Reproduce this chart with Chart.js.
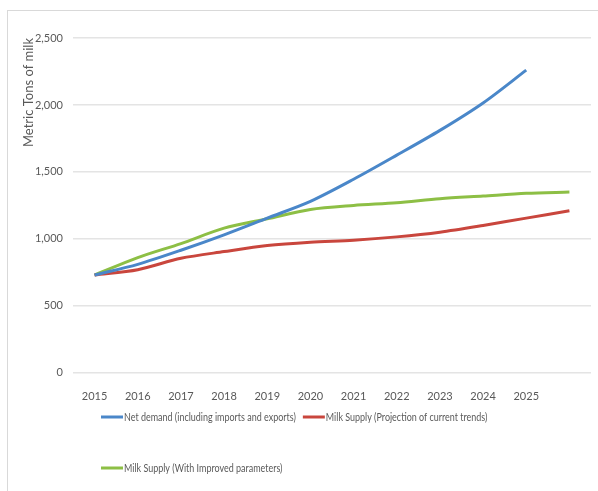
<!DOCTYPE html>
<html>
<head>
<meta charset="utf-8">
<script src="https://cdn.jsdelivr.net/npm/chart.js@4.4.0/dist/chart.umd.min.js"></script>
<style>
  html, body { margin: 0; padding: 0; background: #ffffff; }
  #wrap { position: relative; width: 598px; height: 491px; }
</style>
</head>
<body>
<div id="wrap"><canvas id="c"></canvas></div>
<script>
// ---- data ----
const years = ['2015', '2016', '2017', '2018', '2019', '2020', '2021', '2022', '2023', '2024', '2025', ''];
const netDemand = [730, 810, 915, 1030, 1155, 1280, 1445, 1625, 1810, 2015, 2260, null];
const supplyCurrent = [730, 770, 855, 905, 950, 975, 990, 1015, 1050, 1100, 1155, 1210];
const supplyImproved = [730, 860, 965, 1080, 1150, 1220, 1250, 1270, 1300, 1320, 1340, 1350];
const seriesNames = [
  'Net demand (including imports and exports)',
  'Milk Supply (Projection of current trends)',
  'Milk Supply (With Improved parameters)'
];
const yTicks = [0, 500, 1000, 1500, 2000, 2500];
const yTitle = 'Metric Tons of milk';

const FONT = "Lato, 'Open Sans', sans-serif";
const TXT = '#595959';
const colors = ['#4A87C9', '#C9463D', '#8DBF45'];

const frameAndLegend = {
  id: 'frameAndLegend',
  beforeDraw(chart) {
    const ctx = chart.ctx;
    ctx.save();
    ctx.strokeStyle = '#d9d9d9';
    ctx.lineWidth = 1;
    ctx.strokeRect(7.5, 10.5, 700, 700);
    ctx.restore();
  },
  afterDraw(chart) {
    const ctx = chart.ctx;
    const sx = 0.78; // condensed legend text
    ctx.save();
    ctx.font = '11.5px ' + FONT;
    ctx.fillStyle = TXT;
    ctx.textBaseline = 'middle';
    ctx.textAlign = 'left';
    const rows = [[0, 1], [2]];
    const rowY = [417, 468];
    rows.forEach((row, ri) => {
      let x = 101;
      row.forEach(i => {
        const ds = chart.data.datasets[i];
        ctx.strokeStyle = ds.borderColor;
        ctx.lineWidth = 3;
        ctx.beginPath();
        ctx.moveTo(x, rowY[ri]);
        ctx.lineTo(x + 22, rowY[ri]);
        ctx.stroke();
        ctx.save();
        ctx.translate(x + 23, rowY[ri]);
        ctx.scale(sx, 1);
        ctx.fillText(ds.label, 0, 0);
        ctx.restore();
        x += 23 + ctx.measureText(ds.label).width * sx + 7;
      });
    });
    ctx.restore();
  }
};

new Chart(document.getElementById('c'), {
  type: 'line',
  data: {
    labels: years,
    datasets: [
      { label: seriesNames[0], data: netDemand, borderColor: colors[0] },
      { label: seriesNames[1], data: supplyCurrent, borderColor: colors[1] },
      { label: seriesNames[2], data: supplyImproved, borderColor: colors[2] }
    ].map(d => Object.assign(d, {
      backgroundColor: d.borderColor,
      borderWidth: 3,
      pointRadius: 0,
      pointHoverRadius: 0,
      tension: 0.3,
      fill: false,
      spanGaps: false
    }))
  },
  options: {
    responsive: true,
    maintainAspectRatio: false,
    devicePixelRatio: 1,
    animation: false,
    locale: 'en-US',
    layout: { padding: { left: 20, right: 7, top: 38, bottom: 71 } },
    plugins: {
      legend: { display: false },
      tooltip: { enabled: false }
    },
    scales: {
      x: {
        offset: true,
        grid: { display: false, drawTicks: false },
        border: { display: false },
        ticks: {
          color: TXT,
          font: { family: FONT, size: 11 },
          padding: 17,
          autoSkip: false,
          maxRotation: 0
        }
      },
      y: {
        min: yTicks[0],
        max: yTicks[yTicks.length - 1],
        afterBuildTicks(scale) { scale.ticks = yTicks.map(v => ({ value: v })); },
        afterFit(scale) { scale.width = 53; },
        grid: { color: '#e4e4e4', lineWidth: 1.5, drawTicks: false },
        border: { display: false },
        ticks: {
          color: TXT,
          font: { family: FONT, size: 11 },
          padding: 10,
          callback: v => v.toLocaleString('en-US')
        },
        title: {
          display: true,
          text: yTitle,
          align: 'end',
          color: TXT,
          font: { family: FONT, size: 13 },
          padding: { top: 1, bottom: 0 }
        }
      }
    }
  },
  plugins: [frameAndLegend]
});
</script>
</body>
</html>
